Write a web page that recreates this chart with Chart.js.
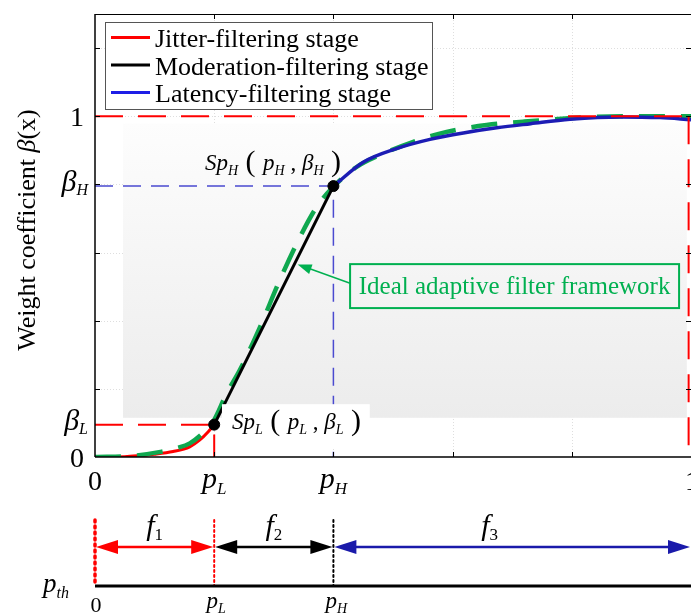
<!DOCTYPE html>
<html>
<head>
<meta charset="utf-8">
<script src="https://cdn.jsdelivr.net/npm/chart.js@4/dist/chart.umd.min.js"></script>
<style>
  html, body { margin: 0; padding: 0; background: #fff; }
  canvas { display: block; }
</style>
</head>
<body>
<canvas id="chart" width="691" height="614"></canvas>
<script>
// switch points p_L / p_H and their weights beta_L / beta_H
var keyX = [0.2, 0.4];
var keyY = [0.095, 0.795];

// jitter-filtering stage (red)
var jitterX = [0, 0.05, 0.075, 0.1, 0.131, 0.159, 0.176, 0.19, 0.2];
var jitterY = [0, 0.001, 0.004, 0.008, 0.016, 0.03, 0.05, 0.074, 0.095];

// moderation-filtering stage (black, straight)
var moderX = [0.2, 0.4];
var moderY = [0.095, 0.795];

// latency-filtering stage (blue)
var latencyX = [0.4, 0.45, 0.506, 0.562, 0.618, 0.674, 0.731, 0.797, 0.881, 0.948, 1.0];
var latencyY = [0.795, 0.865, 0.905, 0.932, 0.951, 0.966, 0.978, 0.991, 0.998, 0.996, 0.99];

// ideal adaptive filter framework (green dashed)
var idealX = [0, 0.06, 0.11, 0.137, 0.159, 0.181, 0.198, 0.221, 0.243, 0.277, 0.31, 0.344, 0.372, 0.397, 0.439, 0.478, 0.534, 0.59, 0.657, 0.718, 0.825, 0.914, 1.0];
var idealY = [0, 0.003, 0.015, 0.026, 0.04, 0.07, 0.103, 0.187, 0.255, 0.382, 0.519, 0.646, 0.734, 0.788, 0.851, 0.886, 0.925, 0.954, 0.974, 0.984, 0.997, 1.0, 1.0];

// tick values
var xTicks = [0, 0.2, 0.4, 0.6, 0.8, 1];
var yTicks = [0, 0.2, 0.4, 0.6, 0.8, 1, 1.2];

// segments of p_th on the lower axis
var segEdges = [0, 0.2, 0.4, 1];
var segNames = ['1', '2', '3'];

var legendNames = ['Jitter-filtering stage', 'Moderation-filtering stage', 'Latency-filtering stage'];

var SERIF = '"Liberation Serif", "DejaVu Serif", serif';
var RED = '#ff0000', BLUE = '#1c1cb4', GREEN = '#0fa84f', ANN = '#00b050';

function xy(xs, ys) {
    return xs.map(function(v, i) { return { x: v, y: ys[i] }; });
}

// draw text made of pieces: [text, font, dy]
function rich(ctx, x, y, parts, align) {
    var w = 0;
    parts.forEach(function(p) { ctx.font = p[1]; w += ctx.measureText(p[0]).width; });
    var cx = align === 'center' ? x - w / 2 : (align === 'right' ? x - w : x);
    ctx.textAlign = 'left';
    ctx.textBaseline = 'alphabetic';
    parts.forEach(function(p) {
        ctx.font = p[1];
        ctx.fillText(p[0], cx, y + (p[2] || 0));
        cx += ctx.measureText(p[0]).width;
    });
}
function it(n) { return 'italic ' + n + 'px ' + SERIF; }
function rm(n) { return n + 'px ' + SERIF; }

function line(ctx, x0, y0, x1, y1) {
    ctx.beginPath(); ctx.moveTo(x0, y0); ctx.lineTo(x1, y1); ctx.stroke();
}
function head(ctx, tx, ty, dir, len, half) {
    // filled arrow head, dir = +1 pointing right, -1 pointing left
    ctx.beginPath();
    ctx.moveTo(tx, ty);
    ctx.lineTo(tx - dir * len, ty - half);
    ctx.lineTo(tx - dir * len, ty + half);
    ctx.closePath();
    ctx.fill();
}

var figure = {
    id: 'figure',
    beforeDatasetsDraw: function(chart) {
        var ctx = chart.ctx, sx = chart.scales.x, sy = chart.scales.y, a = chart.chartArea;
        ctx.save();
        // faint dotted grid
        ctx.strokeStyle = '#dedede';
        ctx.lineWidth = 1;
        ctx.setLineDash([1, 2]);
        xTicks.slice(1, -1).forEach(function(v) {
            var px = Math.round(sx.getPixelForValue(v)) + 0.5;
            line(ctx, px, a.top, px, a.bottom);
        });
        yTicks.slice(1).forEach(function(v) {
            var py = Math.round(sy.getPixelForValue(v)) + 0.5;
            line(ctx, a.left, py, a.right, py);
        });
        ctx.setLineDash([]);
        // shaded panel
        var x0 = sx.getPixelForValue(0.047), x1 = sx.getPixelForValue(0.993);
        var y0 = sy.getPixelForValue(0.978), y1 = sy.getPixelForValue(0.115);
        var g = ctx.createLinearGradient(0, y0, 0, y1);
        g.addColorStop(0, '#fdfdfd');
        g.addColorStop(1, '#ececec');
        ctx.fillStyle = g;
        ctx.fillRect(x0, y0, x1 - x0, y1 - y0);
        ctx.restore();
    },
    afterDatasetsDraw: function(chart) {
        var ctx = chart.ctx, sx = chart.scales.x, sy = chart.scales.y;
        ctx.save();
        // white backing of the Sp_L label
        var x0 = sx.getPixelForValue(0.213), x1 = sx.getPixelForValue(0.461);
        var y0 = sy.getPixelForValue(0.155), y1 = sy.getPixelForValue(0.026);
        ctx.fillStyle = '#ffffff';
        ctx.fillRect(x0, y0, x1 - x0, y1 - y0);
        ctx.restore();
    },
    afterDraw: function(chart) {
        var ctx = chart.ctx, sx = chart.scales.x, sy = chart.scales.y, a = chart.chartArea;
        var pL = sx.getPixelForValue(keyX[0]), pH = sx.getPixelForValue(keyX[1]);
        ctx.save();

        // axes frame
        ctx.strokeStyle = '#000';
        ctx.lineWidth = 1.5;
        line(ctx, a.left, a.top, a.left, a.bottom);
        line(ctx, a.left, a.bottom, a.right, a.bottom);
        ctx.lineWidth = 1;
        line(ctx, a.left, a.top + 0.5, a.right, a.top + 0.5);
        xTicks.slice(1, -1).forEach(function(v) {
            var px = Math.round(sx.getPixelForValue(v)) + 0.5;
            line(ctx, px, a.bottom, px, a.bottom - 5);
            line(ctx, px, a.top, px, a.top + 5);
        });
        yTicks.slice(1).forEach(function(v) {
            var py = Math.round(sy.getPixelForValue(v)) + 0.5;
            line(ctx, a.left, py, a.left + 5, py);
            line(ctx, a.right, py, a.right - 5, py);
        });

        // tick labels
        ctx.fillStyle = '#000';
        var by = a.bottom;
        rich(ctx, sx.getPixelForValue(0), by + 33, [['0', rm(28)]], 'center');
        rich(ctx, pL, by + 31, [['p', it(30)], ['L', it(17), 6]], 'center');
        rich(ctx, pH, by + 31, [['p', it(30)], ['H', it(17), 6]], 'center');
        rich(ctx, sx.getPixelForValue(1) + 1, by + 33, [['1', rm(28)]], 'center');

        rich(ctx, 84, sy.getPixelForValue(0) + 10, [['0', rm(28)]], 'right');
        rich(ctx, 84, sy.getPixelForValue(1) + 10, [['1', rm(28)]], 'right');
        rich(ctx, 88, sy.getPixelForValue(keyY[1]) + 5, [['\u03b2', it(30)], ['H', it(16), 4]], 'right');
        rich(ctx, 88, sy.getPixelForValue(keyY[0]) + 5, [['\u03b2', it(30)], ['L', it(16), 4]], 'right');

        // y title
        ctx.save();
        ctx.translate(35, 230);
        ctx.rotate(-Math.PI / 2);
        rich(ctx, 0, 0, [['Weight coefficient ', rm(26)], ['\u03b2', it(26)], ['(x)', rm(26)]], 'center');
        ctx.restore();

        // point labels
        rich(ctx, 205, sy.getPixelForValue(keyY[1]) - 16, [
            ['Sp', it(23)], ['H', it(14), 5], [' ( ', rm(30), 1], ['p', it(23)], ['H', it(14), 5],
            [' , ', rm(23)], ['\u03b2', it(23)], ['H', it(14), 5], [' )', rm(30), 1]
        ], 'left');
        rich(ctx, 232, sy.getPixelForValue(keyY[0]) + 4, [
            ['Sp', it(23)], ['L', it(14), 5], [' ( ', rm(30), 1], ['p', it(23)], ['L', it(14), 5],
            [' , ', rm(23)], ['\u03b2', it(23)], ['L', it(14), 5], [' )', rm(30), 1]
        ], 'left');

        // annotation for the ideal curve
        var bx0 = sx.getPixelForValue(0.428), bx1 = sx.getPixelForValue(0.98);
        var by0 = sy.getPixelForValue(0.566), by1 = sy.getPixelForValue(0.437);
        ctx.strokeStyle = ANN;
        ctx.fillStyle = ANN;
        ctx.lineWidth = 2;
        ctx.strokeRect(bx0, by0, bx1 - bx0, by1 - by0);
        ctx.font = rm(25);
        ctx.textAlign = 'center';
        ctx.textBaseline = 'middle';
        ctx.fillText('Ideal adaptive filter framework', (bx0 + bx1) / 2, (by0 + by1) / 2 + 1);
        var tx = sx.getPixelForValue(0.34), ty = sy.getPixelForValue(0.565);
        var fx = bx0, fy = sy.getPixelForValue(0.51);
        var ang = Math.atan2(ty - fy, tx - fx);
        ctx.lineWidth = 1.5;
        line(ctx, fx, fy, tx - 10 * Math.cos(ang), ty - 10 * Math.sin(ang));
        ctx.save();
        ctx.translate(tx, ty);
        ctx.rotate(ang);
        ctx.beginPath();
        ctx.moveTo(0, 0); ctx.lineTo(-14, -5); ctx.lineTo(-14, 5); ctx.closePath(); ctx.fill();
        ctx.restore();

        // legend
        ctx.fillStyle = '#fff';
        ctx.fillRect(105, 22, 327, 87);
        ctx.strokeStyle = '#555';
        ctx.lineWidth = 1;
        ctx.strokeRect(105.5, 22.5, 327, 87);
        var lc = [RED, '#000', '#1e1ee6'];
        legendNames.forEach(function(n, i) {
            var yb = 47 + i * 27.5;
            ctx.strokeStyle = lc[i];
            ctx.lineWidth = 3;
            line(ctx, 111, yb - 9.5, 150, yb - 9.5);
            ctx.fillStyle = '#000';
            rich(ctx, 155, yb, [[n, rm(26)]], 'left');
        });

        // lower p_th axis
        var ya = 547, yt = 520, yb2 = 586;
        var segCol = [RED, '#000', '#1a1aaa'];
        var ex = segEdges.map(function(v) { return sx.getPixelForValue(v); });
        for (var i = 0; i < 3; i++) {
            ctx.strokeStyle = segCol[i];
            ctx.fillStyle = segCol[i];
            ctx.lineWidth = 2.5;
            line(ctx, ex[i] + 16, ya, ex[i + 1] - 16, ya);
            head(ctx, ex[i] + 1, ya, -1, 22, 7);
            head(ctx, ex[i + 1] - 1, ya, 1, 22, 7);
        }
        // dotted markers
        ctx.lineCap = 'round';
        ctx.setLineDash([2, 4]);
        ctx.strokeStyle = RED; ctx.lineWidth = 3.5;
        line(ctx, ex[0], yt, ex[0], yb2);
        ctx.setLineDash([2, 3]);
        ctx.lineWidth = 2;
        line(ctx, ex[1], yt, ex[1], yb2);
        ctx.strokeStyle = '#000';
        line(ctx, ex[2], yt, ex[2], yb2);
        ctx.setLineDash([]);
        ctx.lineCap = 'butt';
        ctx.strokeStyle = '#000';
        ctx.lineWidth = 3;
        line(ctx, ex[0], yb2, a.right, yb2);
        // segment names
        ctx.fillStyle = '#000';
        var fxs = [(ex[0] + ex[1]) / 2, (ex[1] + ex[2]) / 2, sx.getPixelForValue(0.662)];
        segNames.forEach(function(s, i) {
            rich(ctx, fxs[i], 535, [['f', it(30)], [s, rm(17), 5]], 'center');
        });
        rich(ctx, 56, 592, [['p', it(27)], ['th', it(16), 6]], 'center');
        rich(ctx, ex[0] + 1, 612, [['0', rm(22)]], 'center');
        rich(ctx, ex[1] + 2, 608, [['p', it(23)], ['L', it(14), 5]], 'center');
        rich(ctx, ex[2] + 3, 608, [['p', it(23)], ['H', it(14), 5]], 'center');

        ctx.restore();
    }
};

var dashRed = [28, 15];

new Chart(document.getElementById('chart'), {
    type: 'scatter',
    data: {
        datasets: [
            { label: 'Sp', data: xy(keyX, keyY), showLine: false, pointRadius: 5.5,
              pointBackgroundColor: '#000', pointBorderColor: '#000', order: 0 },
            { label: 'top', data: xy([0, 1], [1, 1]), showLine: true, borderColor: RED,
              borderWidth: 2, borderDash: dashRed, pointRadius: 0, order: 1 },
            { label: 'right', data: xy([0.996, 0.996], [1, 0]), showLine: true, borderColor: RED,
              borderWidth: 2, borderDash: dashRed, pointRadius: 0, order: 1 },
            { label: 'betaL', data: xy([0, keyX[0], keyX[0]], [keyY[0], keyY[0], 0]), showLine: true,
              borderColor: RED, borderWidth: 2, borderDash: dashRed, pointRadius: 0, order: 1 },
            { label: 'betaH', data: xy([0, keyX[1], keyX[1]], [keyY[1], keyY[1], 0]), showLine: true,
              borderColor: '#4a4ad0', borderWidth: 1.5, borderDash: [18, 10], pointRadius: 0, order: 1 },
            { label: legendNames[2], data: xy(latencyX, latencyY), showLine: true, borderColor: BLUE,
              borderWidth: 3.5, pointRadius: 0, cubicInterpolationMode: 'monotone', order: 2 },
            { label: legendNames[1], data: xy(moderX, moderY), showLine: true, borderColor: '#000',
              borderWidth: 3, pointRadius: 0, order: 3 },
            { label: 'Ideal', data: xy(idealX, idealY), showLine: true, borderColor: GREEN,
              borderWidth: 4.5, borderDash: [26, 16], pointRadius: 0, cubicInterpolationMode: 'monotone', order: 4 },
            { label: legendNames[0], data: xy(jitterX, jitterY), showLine: true, borderColor: RED,
              borderWidth: 3, pointRadius: 0, cubicInterpolationMode: 'monotone', order: 5 }
        ]
    },
    options: {
        responsive: false,
        devicePixelRatio: 1,
        animation: false,
        layout: { autoPadding: false, padding: { left: 95, top: 14, right: 0, bottom: 157 } },
        scales: {
            x: { type: 'linear', min: 0, max: 1, display: false },
            y: { type: 'linear', min: 0, max: 1.3, display: false }
        },
        plugins: {
            legend: { display: false },
            tooltip: { enabled: false }
        }
    },
    plugins: [figure]
});
</script>
</body>
</html>
